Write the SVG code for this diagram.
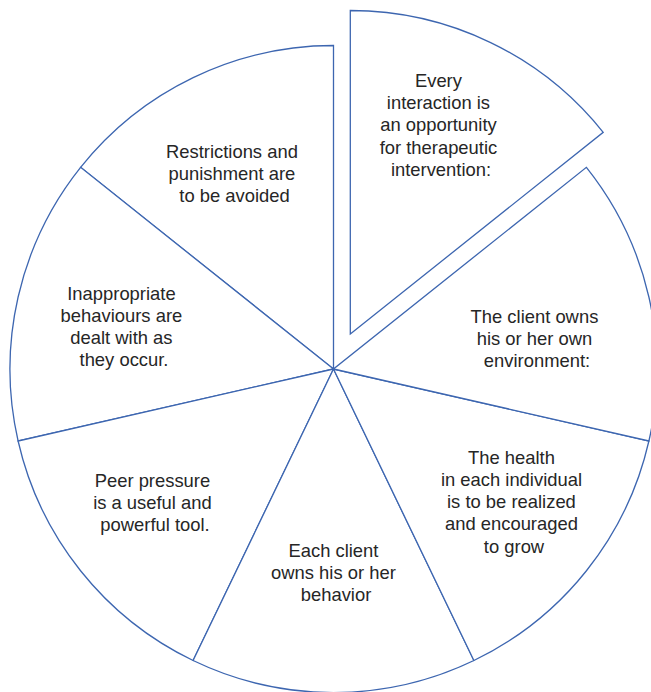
<svg xmlns="http://www.w3.org/2000/svg" width="651" height="692" viewBox="0 0 651 692">
  <style>
    .slice { fill: #ffffff; stroke: #3d66b0; stroke-width: 1.3; stroke-linejoin: miter; }
    .label { font-family: "Liberation Sans", Arial, sans-serif; font-size: 18.4px; fill: #262626; text-anchor: middle; }
  </style>
  <rect width="651" height="692" fill="#ffffff"/>

  <!-- pie slices: centre (333.5,369), radius 323.5, seven equal sectors -->
  <g id="connectors"></g>

  <g id="slice-interaction">
    <path class="slice" d="M 350.3 334 L 603.2 132.3 A 323.5 323.5 0 0 0 350.3 10.5 Z"/>
    <text class="label">
      <tspan x="441" y="86.5">Every</tspan>
      <tspan x="441" y="109">interaction is</tspan>
      <tspan x="441" y="131.3">an opportunity</tspan>
      <tspan x="441" y="153.6">for therapeutic</tspan>
      <tspan x="441" y="176">intervention:</tspan>
    </text>
  </g>

  <g id="slice-restrictions">
    <path class="slice" d="M 333.5 369 L 333.5 45.5 A 323.5 323.5 0 0 0 80.6 167.3 Z"/>
    <text class="label">
      <tspan x="234.5" y="157.5">Restrictions and</tspan>
      <tspan x="234.5" y="179.8">punishment are</tspan>
      <tspan x="234.5" y="202">to be avoided</tspan>
    </text>
  </g>

  <g id="slice-inappropriate">
    <path class="slice" d="M 333.5 369 L 80.6 167.3 A 323.5 323.5 0 0 0 18.1 441 Z"/>
    <text class="label">
      <tspan x="124" y="299.5">Inappropriate</tspan>
      <tspan x="124" y="321.8">behaviours are</tspan>
      <tspan x="124" y="344">dealt with as</tspan>
      <tspan x="124" y="366.3">they occur.</tspan>
    </text>
  </g>

  <g id="slice-peer">
    <path class="slice" d="M 333.5 369 L 18.1 441 A 323.5 323.5 0 0 0 193.1 660.5 Z"/>
    <text class="label">
      <tspan x="155" y="486.5">Peer pressure</tspan>
      <tspan x="155" y="508.8">is a useful and</tspan>
      <tspan x="155" y="531">powerful tool.</tspan>
    </text>
  </g>

  <g id="slice-behavior">
    <path class="slice" d="M 333.5 369 L 193.1 660.5 A 323.5 323.5 0 0 0 473.9 660.5 Z"/>
    <text class="label">
      <tspan x="336" y="556.5">Each client</tspan>
      <tspan x="336" y="578.8">owns his or her</tspan>
      <tspan x="336" y="601">behavior</tspan>
    </text>
  </g>

  <g id="slice-health">
    <path class="slice" d="M 333.5 369 L 473.9 660.5 A 323.5 323.5 0 0 0 648.9 441 Z"/>
    <text class="label">
      <tspan x="514" y="463.5">The health</tspan>
      <tspan x="514" y="485.8">in each individual</tspan>
      <tspan x="514" y="508">is to be realized</tspan>
      <tspan x="514" y="530.3">and encouraged</tspan>
      <tspan x="514" y="552.6">to grow</tspan>
    </text>
  </g>

  <g id="slice-environment">
    <path class="slice" d="M 333.5 369 L 648.9 441 A 323.5 323.5 0 0 0 586.4 167.3 Z"/>
    <text class="label">
      <tspan x="537" y="322.5">The client owns</tspan>
      <tspan x="537" y="344.8">his or her own</tspan>
      <tspan x="537" y="367">environment:</tspan>
    </text>
  </g>
</svg>
